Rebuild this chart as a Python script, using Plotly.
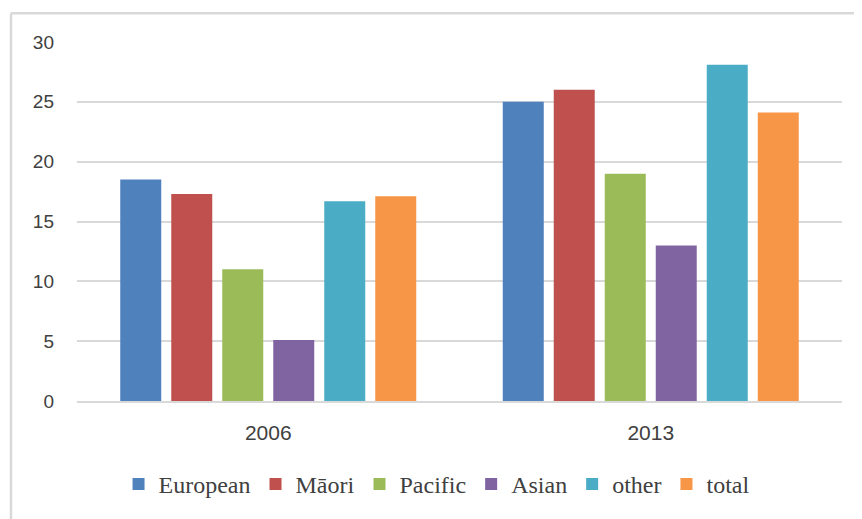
import plotly.graph_objects as go

years = ["2006", "2013"]
series_names = ["European", "Māori", "Pacific", "Asian", "other", "total"]
european = [18.5, 25.0]
maori = [17.3, 26.0]
pacific = [11.0, 19.0]
asian = [5.1, 13.0]
other = [16.7, 28.1]
total = [17.1, 24.1]
y_ticks = [0, 5, 10, 15, 20, 25, 30]

colors = ["#4F81BD", "#C0504D", "#9BBB59", "#8064A2", "#4BACC6", "#F79646"]
values = [european, maori, pacific, asian, other, total]

fig = go.Figure()
for name, vals, col in zip(series_names, values, colors):
    fig.add_trace(go.Bar(x=years, y=vals, name=name, marker=dict(color=col, line=dict(width=0))))

# page body has an 8px margin; figure sized to fit window
W, H = 854, 511
ml, mr, mt, mb = 69, 20, 34, 115
pw = W - ml - mr
ph = H - mt - mb

bx = (3 - ml) / pw
by = 1 + (mt - 5) / ph

fig.update_layout(
    width=W, height=H,
    margin=dict(l=ml, r=mr, t=mt, b=mb),
    paper_bgcolor="white", plot_bgcolor="white",
    barmode="group", bargap=0.2, bargroupgap=0.196,
    showlegend=True,
    legend=dict(orientation="h", x=0.47, xanchor="center", y=(mt + ph - 480 - mt) / ph + (mt / ph) - (mt / ph), yanchor="middle",
                font=dict(family="Liberation Serif", size=24, color="#404040"),
                itemwidth=30, tracegroupgap=0),
    xaxis=dict(showgrid=False, showline=True, linecolor="#D9D9D9", linewidth=1.5,
               ticks="", ticklabelstandoff=12,
               tickfont=dict(family="Liberation Sans", size=21, color="#404040")),
    yaxis=dict(range=[0, 30], tickvals=y_ticks, showgrid=True, gridcolor="#D9D9D9", gridwidth=1.5,
               zeroline=False, showline=False, ticks="", ticklabelstandoff=22,
               tickfont=dict(family="Liberation Sans", size=19, color="#404040")),
    shapes=[
        dict(type="line", xref="paper", yref="paper",
             x0=bx, x1=bx, y0=by, y1=-(mb + 10) / ph,
             line=dict(color="#D9D9D9", width=2.5)),
        dict(type="line", xref="paper", yref="paper",
             x0=bx, x1=1 + (mr + 10) / pw, y0=by, y1=by,
             line=dict(color="#D9D9D9", width=2.5)),
    ],
)
# legend centre at figure y = 480 px
fig.update_layout(legend_y=(mt + ph - 480) / ph)

fig.write_html("out.html")
